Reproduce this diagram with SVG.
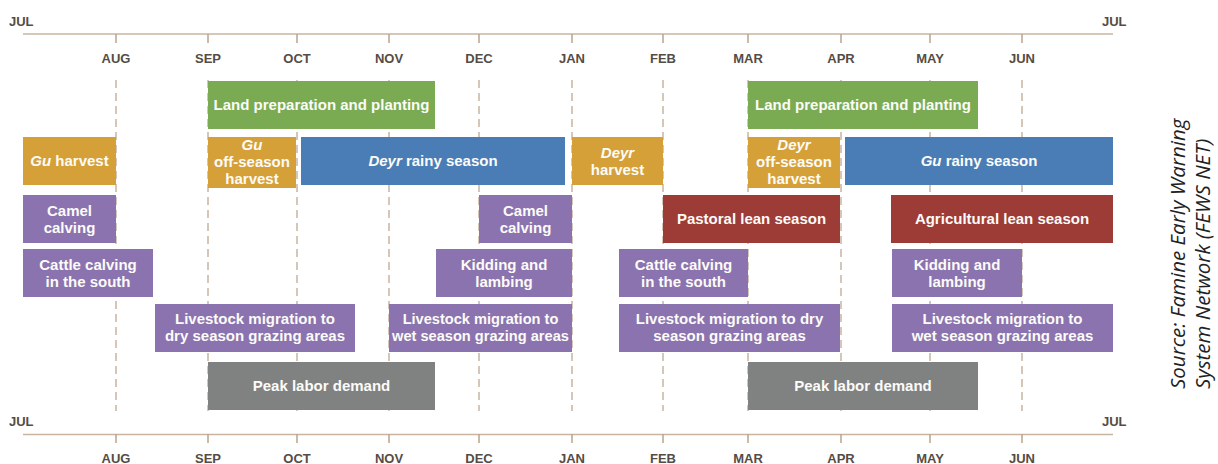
<svg xmlns="http://www.w3.org/2000/svg" width="1218" height="464" viewBox="0 0 1218 464">
<style>
.axis{stroke:#c8b49f;stroke-width:1.6;fill:none}
.tick{stroke:#b9a38d;stroke-width:1.5}
.grid{stroke:#c9b4a1;stroke-width:1.5;stroke-dasharray:8 5;fill:none}
.mon{font-family:"Liberation Sans",Arial,sans-serif;font-weight:bold;font-size:13px;fill:#554c45;text-anchor:middle}
.jul{font-family:"Liberation Sans",Arial,sans-serif;font-weight:bold;font-size:13px;fill:#554c45}
.lbl{font-family:"Liberation Sans",Arial,sans-serif;font-weight:bold;font-size:15px;fill:#fbfbf8;text-anchor:middle}
.sm{font-size:14.6px}
.it{font-style:italic}
.green{fill:#7aab52}
.ochre{fill:#d6a038}
.blue{fill:#4a7db5}
.purple{fill:#8b73af}
.red{fill:#9d3b37}
.gray{fill:#808282}
.src{font-family:"Open Sans","Noto Sans",sans-serif;font-style:italic;font-size:20.5px;fill:#222}
</style>
<rect width="1218" height="464" fill="#fff"/>
<g id="axes">
<line class="axis" x1="23" y1="34" x2="1113" y2="34"/>
<line class="axis" x1="23" y1="434.5" x2="1113" y2="434.5"/>
<g class="tick">
<line x1="116" y1="34" x2="116" y2="43"/><line x1="208" y1="34" x2="208" y2="43"/><line x1="297" y1="34" x2="297" y2="43"/><line x1="389" y1="34" x2="389" y2="43"/><line x1="479" y1="34" x2="479" y2="43"/><line x1="572" y1="34" x2="572" y2="43"/><line x1="663" y1="34" x2="663" y2="43"/><line x1="748" y1="34" x2="748" y2="43"/><line x1="841" y1="34" x2="841" y2="43"/><line x1="930" y1="34" x2="930" y2="43"/><line x1="1022" y1="34" x2="1022" y2="43"/>
<line x1="116" y1="434" x2="116" y2="443"/><line x1="208" y1="434" x2="208" y2="443"/><line x1="297" y1="434" x2="297" y2="443"/><line x1="389" y1="434" x2="389" y2="443"/><line x1="479" y1="434" x2="479" y2="443"/><line x1="572" y1="434" x2="572" y2="443"/><line x1="663" y1="434" x2="663" y2="443"/><line x1="748" y1="434" x2="748" y2="443"/><line x1="841" y1="434" x2="841" y2="443"/><line x1="930" y1="434" x2="930" y2="443"/><line x1="1022" y1="434" x2="1022" y2="443"/>
</g>
<text class="jul" x="9" y="26">JUL</text>
<text class="jul" x="1102" y="26">JUL</text>
<text class="jul" x="9" y="426">JUL</text>
<text class="jul" x="1102" y="426">JUL</text>
<g>
<text class="mon" x="116" y="63">AUG</text><text class="mon" x="208" y="63">SEP</text><text class="mon" x="297" y="63">OCT</text><text class="mon" x="389" y="63">NOV</text><text class="mon" x="479" y="63">DEC</text><text class="mon" x="572" y="63">JAN</text><text class="mon" x="663" y="63">FEB</text><text class="mon" x="748" y="63">MAR</text><text class="mon" x="841" y="63">APR</text><text class="mon" x="930" y="63">MAY</text><text class="mon" x="1022" y="63">JUN</text>
<text class="mon" x="116" y="463">AUG</text><text class="mon" x="208" y="463">SEP</text><text class="mon" x="297" y="463">OCT</text><text class="mon" x="389" y="463">NOV</text><text class="mon" x="479" y="463">DEC</text><text class="mon" x="572" y="463">JAN</text><text class="mon" x="663" y="463">FEB</text><text class="mon" x="748" y="463">MAR</text><text class="mon" x="841" y="463">APR</text><text class="mon" x="930" y="463">MAY</text><text class="mon" x="1022" y="463">JUN</text>
</g>
</g>
<g id="connectors">
<line class="grid" x1="116" y1="80" x2="116" y2="411"/><line class="grid" x1="208" y1="80" x2="208" y2="411"/><line class="grid" x1="297" y1="80" x2="297" y2="411"/><line class="grid" x1="389" y1="80" x2="389" y2="411"/><line class="grid" x1="479" y1="80" x2="479" y2="411"/><line class="grid" x1="572" y1="80" x2="572" y2="411"/><line class="grid" x1="663" y1="80" x2="663" y2="411"/><line class="grid" x1="748" y1="80" x2="748" y2="411"/><line class="grid" x1="841" y1="80" x2="841" y2="411"/><line class="grid" x1="930" y1="80" x2="930" y2="411"/><line class="grid" x1="1022" y1="80" x2="1022" y2="411"/>
</g>
<g id="land1"><rect class="green" x="208" y="81" width="227" height="48"/><text class="lbl" x="321.5" y="110">Land preparation and planting</text></g>
<g id="land2"><rect class="green" x="748" y="81" width="230" height="48"/><text class="lbl" x="863" y="110">Land preparation and planting</text></g>
<g id="gu-harvest"><rect class="ochre" x="23" y="137" width="93" height="48"/><text class="lbl" x="69.5" y="166"><tspan class="it">Gu</tspan> harvest</text></g>
<g id="gu-offseason"><rect class="ochre" x="208" y="137" width="88" height="51"/><text class="lbl" x="252" y="150"><tspan class="it">Gu</tspan><tspan x="252" y="167">off-season</tspan><tspan x="252" y="184">harvest</tspan></text></g>
<g id="deyr-rainy"><rect class="blue" x="301" y="137" width="264" height="48"/><text class="lbl" x="433" y="166"><tspan class="it">Deyr</tspan> rainy season</text></g>
<g id="deyr-harvest"><rect class="ochre" x="572" y="137" width="91" height="48"/><text class="lbl" x="617.5" y="157.5"><tspan class="it">Deyr</tspan><tspan x="617.5" y="174.5">harvest</tspan></text></g>
<g id="deyr-offseason"><rect class="ochre" x="748" y="137" width="92" height="51"/><text class="lbl" x="794" y="150"><tspan class="it">Deyr</tspan><tspan x="794" y="167">off-season</tspan><tspan x="794" y="184">harvest</tspan></text></g>
<g id="gu-rainy"><rect class="blue" x="845" y="137" width="268" height="48"/><text class="lbl" x="979" y="166"><tspan class="it">Gu</tspan> rainy season</text></g>
<g id="camel1"><rect class="purple" x="23" y="195" width="93" height="48"/><text class="lbl" x="69.5" y="215.5">Camel<tspan x="69.5" y="232.5">calving</tspan></text></g>
<g id="camel2"><rect class="purple" x="479" y="195" width="93" height="48"/><text class="lbl" x="525.5" y="215.5">Camel<tspan x="525.5" y="232.5">calving</tspan></text></g>
<g id="pastoral-lean"><rect class="red" x="663" y="195" width="177" height="48"/><text class="lbl" x="751.5" y="224">Pastoral lean season</text></g>
<g id="agri-lean"><rect class="red" x="891" y="195" width="222" height="48"/><text class="lbl" x="1002" y="224">Agricultural lean season</text></g>
<g id="cattle1"><rect class="purple" x="23" y="249" width="130" height="48"/><text class="lbl" x="88" y="269.5">Cattle calving<tspan x="88" y="286.5">in the south</tspan></text></g>
<g id="kidding1"><rect class="purple" x="436" y="249" width="136" height="48"/><text class="lbl" x="504" y="269.5">Kidding and<tspan x="504" y="286.5">lambing</tspan></text></g>
<g id="cattle2"><rect class="purple" x="619" y="249" width="129" height="48"/><text class="lbl" x="683.5" y="269.5">Cattle calving<tspan x="683.5" y="286.5">in the south</tspan></text></g>
<g id="kidding2"><rect class="purple" x="892" y="249" width="130" height="48"/><text class="lbl" x="957" y="269.5">Kidding and<tspan x="957" y="286.5">lambing</tspan></text></g>
<g id="migration1"><rect class="purple" x="155" y="304" width="200" height="48"/><text class="lbl" x="255" y="324">Livestock migration to<tspan x="255" y="341">dry season grazing areas</tspan></text></g>
<g id="migration2"><rect class="purple" x="389" y="304" width="183" height="48"/><text class="lbl sm" x="480.5" y="324">Livestock migration to<tspan x="480.5" y="341">wet season grazing areas</tspan></text></g>
<g id="migration3"><rect class="purple" x="619" y="304" width="221" height="48"/><text class="lbl" x="729.5" y="324">Livestock migration to dry<tspan x="729.5" y="341">season grazing areas</tspan></text></g>
<g id="migration4"><rect class="purple" x="892" y="304" width="221" height="48"/><text class="lbl" x="1002.5" y="324">Livestock migration to<tspan x="1002.5" y="341">wet season grazing areas</tspan></text></g>
<g id="peak1"><rect class="gray" x="208" y="362" width="227" height="48"/><text class="lbl" x="321.5" y="391">Peak labor demand</text></g>
<g id="peak2"><rect class="gray" x="748" y="362" width="230" height="48"/><text class="lbl" x="863" y="391">Peak labor demand</text></g>
<g id="source">
<text class="src" transform="translate(1185 389) rotate(-90)">Source: Famine Early Warning</text>
<text class="src" transform="translate(1210 389) rotate(-90)">System Network (FEWS NET)</text>
</g>
</svg>
